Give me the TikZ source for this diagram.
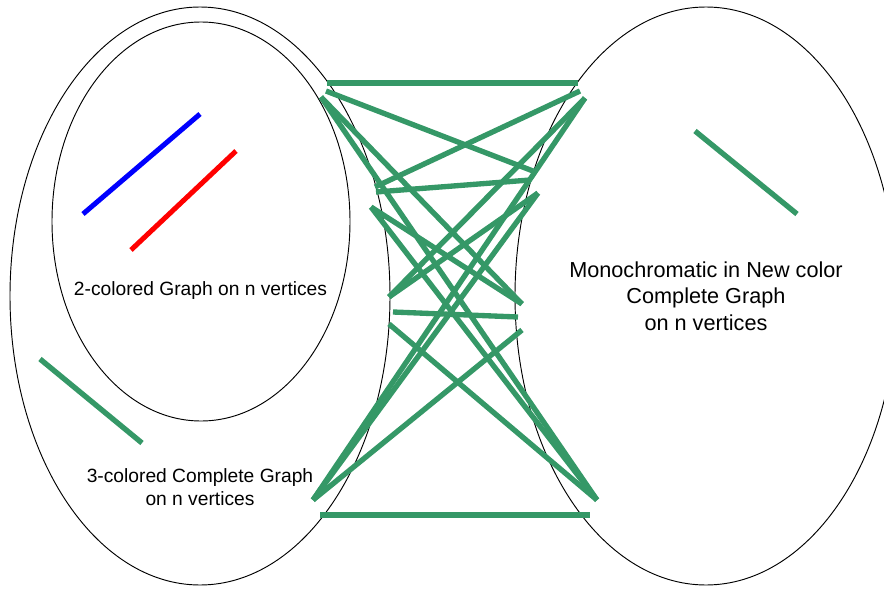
\documentclass[tikz,border=0pt]{standalone}
\usepackage{fontspec}
\setmainfont{Liberation Sans}
\usepackage{tikz}
\usetikzlibrary{calc}
\definecolor{kgreen}{RGB}{53,152,103}
\definecolor{kblue}{RGB}{0,0,255}
\definecolor{kred}{RGB}{255,0,0}
\tikzset{
  setoval/.style={draw=black, line width=0.8pt},
  kedge/.style={draw=kgreen, line width=0.16cm},
  bluedge/.style={draw=kblue, line width=0.15cm},
  redge/.style={draw=kred, line width=0.15cm},
  bigcap/.style={
    align=center, inner sep=0pt, anchor=base,
    font=\fontsize{18.5}{22.2}\selectfont
  },
  smallcap/.style={
    align=center, inner sep=0pt, anchor=base,
    font=\fontsize{16.4}{18.8}\selectfont
  }
}

\begin{document}
\begin{tikzpicture}[x=0.03cm, y=-0.03cm]
  \useasboundingbox (0,0) rectangle (884,589);
  \clip (0,0) rectangle (884,589);

  % Sets
  \draw[setoval] (200,296) ellipse [x radius=190, y radius=289];
  \draw[setoval] (201,221.5) ellipse [x radius=149, y radius=199.5];
  \draw[setoval] (706,296) ellipse [x radius=191, y radius=289];

  % Captions (base = last line)
  \node[smallcap] (twocol) at (200.5,295) {2-colored Graph on n vertices};
  \node[smallcap] (threecol) at (200,505) {3-colored Complete Graph\\on n vertices};
  \node[bigcap] (mono) at (706,330) {Monochromatic in New color\\Complete Graph\\on n vertices};

  % Sample edges
  \coordinate (blueA) at (83,214);
  \coordinate (blueB) at (200,114);
  \coordinate (redA)  at (131,250);
  \coordinate (redB)  at (236,151);
  \coordinate (lgA)   at (40,359);
  \coordinate (lgB)   at (142,443);
  \coordinate (rgA)   at (695,131);
  \coordinate (rgB)   at (797,214);
  \draw[bluedge] (blueA) -- (blueB);
  \draw[redge]   (redA) -- (redB);
  \draw[kedge]   (lgA) -- (lgB);
  \draw[kedge]   (rgA) -- (rgB);

  % End points, left side
  \coordinate (tlh) at (327,83);
  \coordinate (tla) at (326,91);
  \coordinate (tl)  at (321,97);
  \coordinate (la)  at (375,187);
  \coordinate (lb)  at (376,192);
  \coordinate (lc)  at (371,207);
  \coordinate (ld)  at (389,297);
  \coordinate (le)  at (393,312);
  \coordinate (lf)  at (389,324);
  \coordinate (bl)  at (313,500);
  \coordinate (blh) at (320,515);

  % End points, right side
  \coordinate (trh) at (578,83);
  \coordinate (tra) at (580,91);
  \coordinate (tr)  at (585,98);
  \coordinate (ra)  at (533,171);
  \coordinate (rb)  at (530,180);
  \coordinate (rc)  at (538,193);
  \coordinate (rd)  at (522,304);
  \coordinate (re)  at (518,317);
  \coordinate (rf)  at (522,330);
  \coordinate (br)  at (597,500);
  \coordinate (brh) at (590,515);

  % Edges between the two sets
  \draw[kedge] (tlh) -- (trh);
  \draw[kedge] (tla) -- (ra);
  \draw[kedge] (tra) -- (la);
  \draw[kedge] (lb) -- (rb);
  \draw[kedge] (tl) -- (br);
  \draw[kedge] (tl) -- (rd);
  \draw[kedge] (tr) -- (ld);
  \draw[kedge] (tr) -- (bl);
  \draw[kedge] (lc) -- (rd);
  \draw[kedge] (rc) -- (ld);
  \draw[kedge] (lc) -- (br);
  \draw[kedge] (rc) -- (bl);
  \draw[kedge] (le) -- (re);
  \draw[kedge] (lf) -- (br);
  \draw[kedge] (rf) -- (bl);
  \draw[kedge] (blh) -- (brh);
\end{tikzpicture}
\end{document}
